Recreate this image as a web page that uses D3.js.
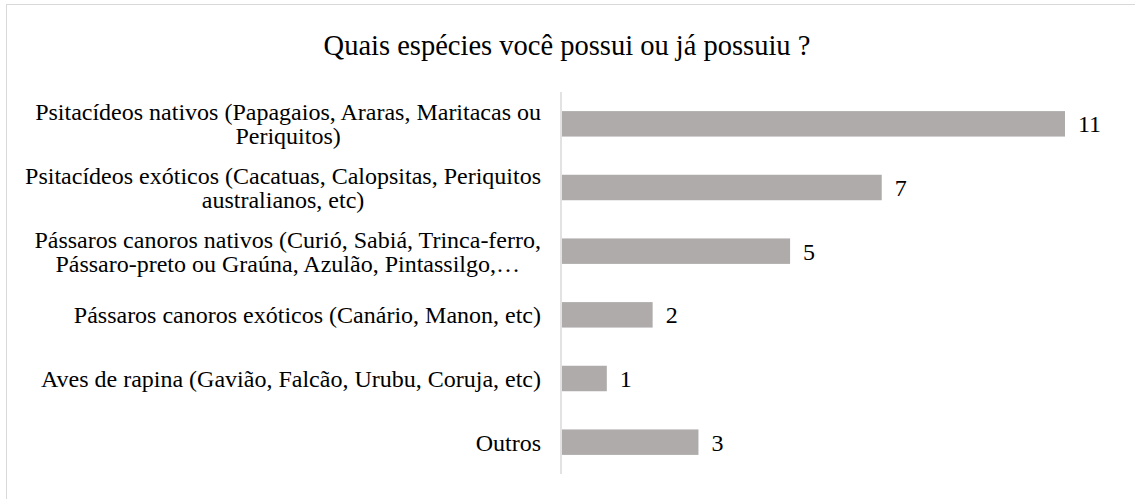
<!DOCTYPE html>
<html>
<head>
<meta charset="utf-8">
<script src="https://cdn.jsdelivr.net/npm/d3@7"></script>
<style>
  html, body { margin: 0; padding: 0; background: #fff; }
  svg { display: block; }
</style>
</head>
<body>
<svg id="chart" width="1135" height="499"></svg>
<script>
const title = "Quais espécies você possui ou já possuiu ?";
const categories = [
  "Psitacídeos nativos (Papagaios, Araras, Maritacas ou Periquitos)",
  "Psitacídeos exóticos (Cacatuas, Calopsitas, Periquitos australianos, etc)",
  "Pássaros canoros nativos (Curió, Sabiá, Trinca-ferro, Pássaro-preto ou Graúna, Azulão, Pintassilgo,…",
  "Pássaros canoros exóticos (Canário, Manon, etc)",
  "Aves de rapina (Gavião, Falcão, Urubu, Coruja, etc)",
  "Outros"
];
const labelLines = [
  ["Psitacídeos nativos (Papagaios, Araras, Maritacas ou", "Periquitos)"],
  ["Psitacídeos exóticos (Cacatuas, Calopsitas, Periquitos", "australianos, etc)"],
  ["Pássaros canoros nativos (Curió, Sabiá, Trinca-ferro,", "Pássaro-preto ou Graúna, Azulão, Pintassilgo,…"],
  ["Pássaros canoros exóticos (Canário, Manon, etc)"],
  ["Aves de rapina (Gavião, Falcão, Urubu, Coruja, etc)"],
  ["Outros"]
];
const values = [11, 7, 5, 2, 1, 3];

const svg = d3.select("#chart");
const font = "'Liberation Serif', 'Times New Roman', serif";

// chart border
svg.append("rect")
  .attr("x", 6.5).attr("y", 4.5)
  .attr("width", 1140).attr("height", 510)
  .attr("fill", "#fff")
  .attr("stroke", "#d9d9d9").attr("stroke-width", 1);

svg.append("text")
  .attr("x", 567).attr("y", 55)
  .attr("text-anchor", "middle")
  .style("font-family", font).style("font-size", "28.5px").style("fill", "#000")
  .text(title);

const x0 = 561;
const x = d3.scaleLinear().domain([0, 11]).range([x0, 1065]);
const y = d3.scaleBand().domain(categories).range([92, 474]).paddingInner(0.6).paddingOuter(0.3);

// axis line
svg.append("g")
  .attr("transform", `translate(${x0},0)`)
  .call(d3.axisLeft(y).tickSize(0).tickFormat(""))
  .call(g => g.select(".domain").attr("stroke", "#d9d9d9").attr("stroke-width", 1.5)
    .attr("d", "M0,92V474"));

svg.append("g").selectAll("rect")
  .data(values)
  .join("rect")
  .attr("x", x0 + 1)
  .attr("y", (d, i) => y(categories[i]))
  .attr("width", d => x(d) - x0 - 1)
  .attr("height", y.bandwidth())
  .attr("fill", "#afabab");

svg.append("g").selectAll("text")
  .data(values)
  .join("text")
  .attr("x", d => x(d) + 13)
  .attr("y", (d, i) => y(categories[i]) + y.bandwidth() / 2)
  .attr("dy", "0.35em")
  .style("font-family", font).style("font-size", "24px").style("fill", "#000")
  .text(d => d);

// category labels: block right-aligned, lines centered within block
const rightEdge = 541;
const lineH = 24;
labelLines.forEach((lines, i) => {
  const cy = y(categories[i]) + y.bandwidth() / 2;
  const g = svg.append("g");
  const texts = lines.map((ln, j) => g.append("text")
    .attr("y", cy + (j - (lines.length - 1) / 2) * lineH)
    .attr("dy", "0.35em")
    .style("font-family", font).style("font-size", "24px").style("fill", "#000")
    .text(ln));
  const widths = texts.map(t => t.node().getComputedTextLength());
  const bw = d3.max(widths);
  const cx = rightEdge - bw / 2;
  texts.forEach(t => t.attr("x", cx).attr("text-anchor", "middle"));
});
</script>
</body>
</html>
